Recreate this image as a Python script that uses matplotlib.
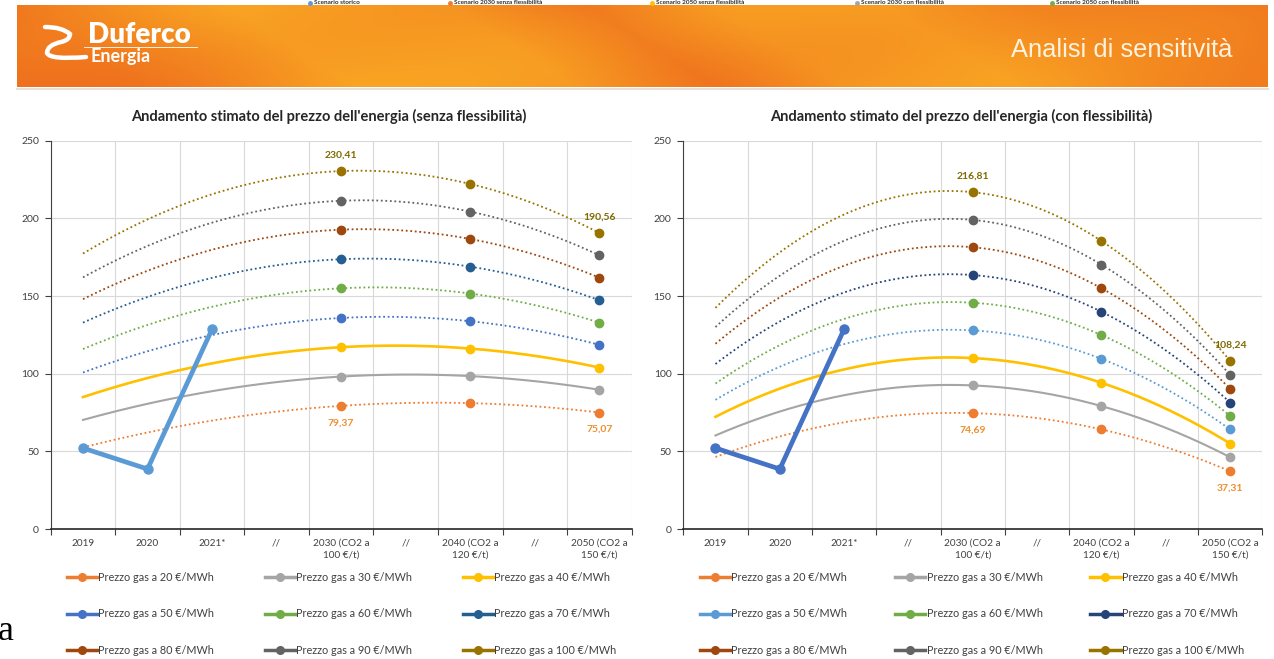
import numpy as np
import matplotlib.pyplot as plt
from matplotlib.lines import Line2D
from matplotlib.path import Path
from matplotlib.patches import PathPatch

plt.rcParams['font.family'] = ['Lato', 'DejaVu Sans']

W, H = 1274, 659

# Category axis shared by both charts
categories = ['2019', '2020', '2021*', '//', '2030 (CO2 a\n100 €/t)', '//',
              '2040 (CO2 a\n120 €/t)', '//', '2050 (CO2 a\n150 €/t)']
gas_prices = [20, 30, 40, 50, 60, 70, 80, 90, 100]

# Historical price (2019, 2020, 2021*)
hist_idx = [0, 1, 2]
hist_values = [52.2, 38.7, 128.7]

# Projected points sit on the 2030 / 2040 / 2050 categories
proj_idx = [4, 6, 8]

# Scenario without flexibility, one value per gas price
senza_2030 = [79.37, 98.2, 117.1, 135.9, 155.0, 173.7, 192.7, 211.3, 230.41]
senza_2040 = [81.1, 98.5, 116.2, 133.8, 151.6, 168.9, 186.7, 204.3, 222.1]
senza_2050 = [75.07, 89.7, 104.0, 118.6, 132.9, 147.3, 161.8, 176.2, 190.56]

# Scenario with flexibility
con_2030 = [74.69, 92.5, 110.1, 127.9, 145.7, 163.5, 181.4, 198.96, 216.81]
con_2040 = [64.2, 79.2, 94.2, 109.6, 124.9, 139.9, 155.0, 170.2, 185.4]
con_2050 = [37.31, 46.3, 55.1, 64.2, 72.9, 81.5, 90.3, 99.3, 108.24]

colors_senza = ['#ED7D31', '#A5A5A5', '#FFC000', '#4472C4', '#70AD47',
                '#255E91', '#9E480E', '#636363', '#997300']
colors_con = ['#ED7D31', '#A5A5A5', '#FFC000', '#5B9BD5', '#70AD47',
              '#264478', '#9E480E', '#636363', '#997300']

top_legend = ['Scenario storico', 'Scenario 2030 senza flessibilità',
              'Scenario 2050 senza flessibilità', 'Scenario 2030 con flessibilità',
              'Scenario 2050 con flessibilità']
top_legend_colors = ['#5B9BD5', '#ED7D31', '#FFC000', '#A5A5A5', '#70AD47']

TXT = '#404040'


def banner_image(w, h):
    """Orange header with soft slanted bands."""
    yy, xx = np.mgrid[0:h, 0:w].astype(float)
    s = xx + 1.6 * (h - yy)
    stops = [0, 120, 200, 340, 560, 700, 830, 1000, 1150, 1300, 1450]
    shade = [0.15, 0.25, 0.45, 0.85, 0.75, 0.28, 0.70, 0.80, 0.50, 0.35, 0.15]
    t = np.interp(s, stops, shade) + 0.07 * np.sin(xx / 90 + yy / 25)
    dark = np.array([0.93, 0.40, 0.11])
    light = np.array([0.98, 0.67, 0.14])
    return dark + (light - dark) * np.clip(t, 0, 1)[..., None]


def draw_chart(ax, s2030, s2040, s2050, colors, hist_color):
    xs = np.linspace(0, 8, 300)
    for i, price in enumerate(gas_prices):
        vals = [s2030[i], s2040[i], s2050[i]]
        # 2nd order trendline through the projected points, extended back to 2019
        coef = np.polyfit(proj_idx, vals, 2)
        if price == 40:
            ax.plot(xs, np.polyval(coef, xs), color=colors[i], lw=1.9, zorder=3)
        elif price == 30:
            ax.plot(xs, np.polyval(coef, xs), color=colors[i], lw=1.5, zorder=3)
        else:
            ax.plot(xs, np.polyval(coef, xs), color=colors[i], lw=1.3,
                    ls=(0, (1, 1.5)), zorder=3)
        ax.plot(proj_idx, vals, 'o', color=colors[i], ms=6, zorder=4)

    ax.plot(hist_idx, hist_values, 'o-', color=hist_color, lw=3.4, ms=6.5, zorder=5)

    def label(x, v, color, dy):
        ax.annotate(f'{v:.2f}'.replace('.', ','), (x, v), xytext=(0, dy),
                    textcoords='offset points', ha='center', va='center',
                    fontsize=7.5, weight='bold', color=color, zorder=6)

    label(4, s2030[-1], '#7F6A00', 11.5)
    label(8, s2050[-1], '#7F6A00', 11.5)
    label(4, s2030[0], '#EE8F2E', -12.3)
    label(8, s2050[0], '#EE8F2E', -12.3)

    ax.set_xlim(-0.5, 8.5)
    ax.set_ylim(0, 250)
    ax.set_xticks(np.arange(-0.5, 9, 1))
    ax.set_xticklabels([])
    ax.set_xticks(range(9), minor=True)
    ax.set_xticklabels(categories, minor=True, fontsize=7.2, color=TXT,
                       linespacing=1.35)
    ax.tick_params(axis='x', which='major', length=4, color='#404040')
    ax.tick_params(axis='x', which='minor', length=0, pad=7)
    ax.set_yticks(range(0, 251, 50))
    ax.tick_params(axis='y', length=4, labelsize=7.5, labelcolor=TXT,
                   color='#404040', pad=4.5)
    ax.grid(True, which='major', color='#d9d9d9', lw=0.8)
    ax.set_axisbelow(True)
    ax.spines['top'].set_visible(False)
    ax.spines['right'].set_visible(False)
    ax.spines['left'].set_color('#404040')
    ax.spines['bottom'].set_color('#262626')
    ax.spines['bottom'].set_linewidth(1.2)
    ax.set_facecolor('none')


def add_legend(x0, colors, spacing):
    handles = [Line2D([], [], color=c, lw=2.5, marker='o', ms=5.5) for c in colors]
    labels = [f'Prezzo gas a {p} €/MWh' for p in gas_prices]
    order = [0, 3, 6, 1, 4, 7, 2, 5, 8]  # fill rows first
    leg = fig.legend([handles[k] for k in order], [labels[k] for k in order],
                     ncol=3, loc='upper left', bbox_to_anchor=(x0 / W, 1 - 572 / H),
                     frameon=False, fontsize=7.8, handlelength=2.8,
                     handletextpad=0.1, labelspacing=2.35, columnspacing=spacing,
                     borderpad=0, borderaxespad=0)
    for t in leg.get_texts():
        t.set_color(TXT)


fig = plt.figure(figsize=(W / 100, H / 100), dpi=100)

# Background layer in pixel coordinates: header, titles, stray slide text
bg = fig.add_axes([0, 0, 1, 1], zorder=0)
bg.set_xlim(0, W)
bg.set_ylim(H, 0)
bg.axis('off')

bg.imshow(banner_image(1251, 82), extent=[17, 1268, 87, 5], aspect='auto',
          interpolation='bilinear')
bg.plot([17, 1268], [88.5, 88.5], color='#e8e0d8', lw=1.5)

# Logo
swirl = Path([(45, 27), (62, 27), (70, 34), (70, 40), (61, 42),
              (47, 45), (47, 53), (50, 60), (86, 57)],
             [Path.MOVETO, Path.CURVE3, Path.CURVE3, Path.CURVE3, Path.CURVE3,
              Path.CURVE3, Path.CURVE3, Path.CURVE3, Path.CURVE3])
bg.add_patch(PathPatch(swirl, fill=False, edgecolor='white', lw=3.2,
                       capstyle='round'))
bg.text(88, 43, 'Duferco', fontsize=20, weight='heavy', color='white',
        ha='left', va='baseline')
bg.plot([84, 197], [46.5, 46.5], color='white', lw=0.6)
bg.text(90, 62, 'Energia', fontsize=13, weight='bold', color='white',
        ha='left', va='baseline')
bg.text(1011, 57, 'Analisi di sensitività', fontsize=18.4, color='#FFF3E0',
        family=['Liberation Sans Narrow', 'Liberation Sans'],
        ha='left', va='baseline')

# Small series key above the header
for x, name, c in zip([310, 450, 652, 857, 1052], top_legend, top_legend_colors):
    bg.plot(x, 2.6, 'o', color=c, ms=2.5, zorder=3)
    bg.text(x + 4, 0.4, name, fontsize=4.6, weight='bold', color='#303030',
            ha='left', va='top', zorder=3)

bg.text(329, 116, "Andamento stimato del prezzo dell'energia (senza flessibilità)",
        fontsize=10.5, weight='bold', color='#262626', ha='center', va='center')
bg.text(961, 116, "Andamento stimato del prezzo dell'energia (con flessibilità)",
        fontsize=10.5, weight='bold', color='#262626', ha='center', va='center')
bg.text(-2, 640, 'a', fontsize=26, family=['Liberation Serif', 'DejaVu Serif'],
        color='black', ha='left', va='baseline')

ax1 = fig.add_axes([50.7 / W, 1 - 529.2 / H, 581 / W, 388.6 / H], zorder=1)
ax2 = fig.add_axes([683.3 / W, 1 - 529.2 / H, 579 / W, 388.6 / H], zorder=1)

draw_chart(ax1, senza_2030, senza_2040, senza_2050, colors_senza, '#5B9BD5')
draw_chart(ax2, con_2030, con_2040, con_2050, colors_con, '#4472C4')

add_legend(67, colors_senza, 4.65)
add_legend(700, colors_con, 4.4)

fig.savefig('out.png', dpi=100, facecolor='white')
